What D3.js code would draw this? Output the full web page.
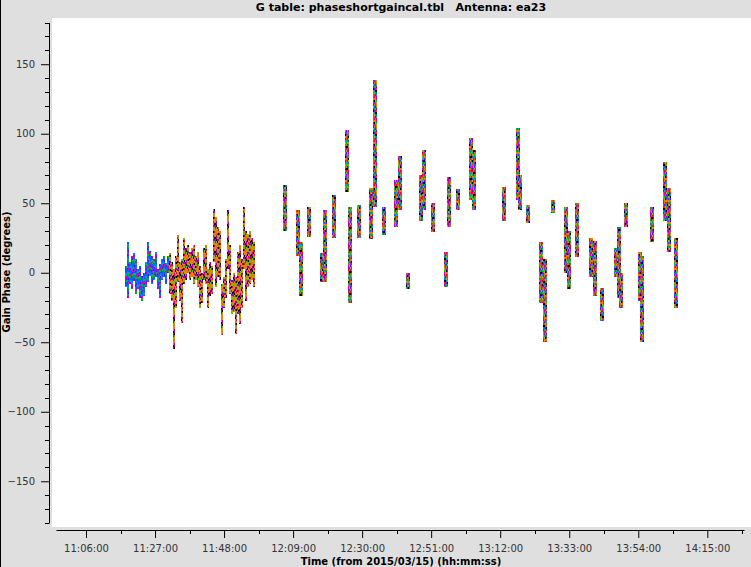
<!DOCTYPE html>
<html>
<head>
<meta charset="utf-8">
<script src="https://cdn.jsdelivr.net/npm/d3@7"></script>
<style>
  body { margin: 0; background: #dfdfdf; }
  svg { display: block; font-family: "DejaVu Sans", sans-serif; }
</style>
</head>
<body>
<div id="chart"></div>
<script>
//////////////////////////////////////////////////////////////
///////////////////////// Data ///////////////////////////////
//////////////////////////////////////////////////////////////

// [minutes after 11:00:00, phase top, phase bottom] in degrees
var earlyScans = [
  [18.17, 5, -10], [18.78, 22, -18], [19.38, 8, -8], [19.99, 12, -12],
  [20.60, 14, -6], [21.21, 10, -15], [21.82, 3, -12], [22.43, 5, -18],
  [23.04, -2, -20], [23.64, 0, -17], [24.25, 8, -10], [24.86, 22, -7],
  [25.47, 16, -2], [26.08, 12, -8], [26.69, 10, -5], [27.29, 15, -3],
  [27.90, 3, -12], [28.51, 6, -18], [29.12, 10, -5], [29.73, 12, -3],
  [30.34, 7, -8], [30.94, 12, 0]
];

var midScans = [
  [31.55, 14, -15], [32.16, 8, -20], [32.77, 3, -55], [33.38, 12, -25],
  [33.99, 27, -7], [34.59, 8, -20], [35.20, 10, -36], [35.81, 25, -8],
  [36.42, 18, -5], [37.03, 20, 0], [37.64, 15, -5], [38.25, 18, -3],
  [38.85, 20, -8], [39.46, 12, -5], [40.07, 15, -10], [40.68, 5, -25],
  [41.29, 0, -22], [41.90, 18, -5], [42.50, 20, -8], [43.11, 3, -25],
  [43.72, 8, -17], [44.33, 5, -15], [44.94, 46, 8], [45.55, 40, -10],
  [46.15, 33, -3], [46.76, 30, -5], [47.37, -8, -45], [47.98, -3, -25],
  [48.59, 10, -18], [49.20, 45, 3], [49.80, 20, -15], [50.41, -5, -30],
  [51.02, 0, -28], [51.63, -3, -44], [52.24, 15, -30], [52.85, 20, -37],
  [53.46, 10, -25], [54.06, 47, 3], [54.67, 30, -20], [55.28, 28, -10],
  [55.89, 30, -8], [56.50, 25, -5], [57.11, 22, -10]
];

var lateScans = [
  [66.54, 63, 30], [70.49, 45, 12], [71.40, 22, -17], [73.84, 47, 26],
  [77.79, 14, -7], [78.70, 45, -7], [81.44, 56, 25], [85.40, 103, 58],
  [86.31, 47, -22], [89.05, 49, 25], [92.70, 61, 24], [93.91, 139, 47],
  [96.65, 47, 27], [100.30, 67, 33], [101.52, 84, 45], [103.95, 0, -12],
  [107.91, 70, 37], [108.82, 88, 45], [111.56, 50, 29], [115.51, 15, -10],
  [116.42, 69, 33], [119.16, 60, 45], [123.12, 97, 52], [124.03, 88, 45],
  [133.16, 62, 37], [137.41, 104, 52], [138.02, 70, 45], [140.46, 49, 36],
  [144.41, 22, -22], [145.63, 10, -50], [148.06, 52, 43], [152.02, 47, 0],
  [152.93, 30, -12], [155.36, 50, 11], [159.62, 25, -3], [160.84, 23, -17],
  [162.97, -11, -35], [167.23, 18, -3], [168.14, 33, -18], [168.75, 0, -25],
  [170.27, 50, 33], [174.53, 15, -20], [175.14, 12, -50], [178.18, 47, 22],
  [182.13, 80, 37], [183.35, 61, 15], [185.48, 25, -25]
];

var timeTicks = ["11:06:00", "11:27:00", "11:48:00", "12:09:00", "12:30:00",
                 "12:51:00", "13:12:00", "13:33:00", "13:54:00", "14:15:00"];
var phaseTicks = [-150, -100, -50, 0, 50, 100, 150];

// colours of the different spw / channels
var bluePalette = ["#0066ff", "#7a00ff", "#0066ff", "#00c000", "#00a0c0", "#0066ff", "#e000b0"];
var orangePalette = ["#e08000", "#e0005a", "#60c800", "#e08000", "#9000e0", "#000000", "#d89000"];
var fullPalette = ["#0066ff", "#e0005a", "#00c000", "#e08000", "#8000ff", "#000000", "#00a8a8", "#d000d0", "#80c800", "#c08000", "#ff3030"];

//////////////////////////////////////////////////////////////
/////////////////////// Settings /////////////////////////////
//////////////////////////////////////////////////////////////

var width = 751, height = 567;
var canvas = {x: 52, y: 18, w: 699, h: 509};

var parseT = d3.timeParse("%H:%M:%S");
var fmtT = d3.timeFormat("%H:%M:%S");
function tm(min) { return new Date(1900, 0, 1, 11, 0, Math.round(min * 60)); }

var svg = d3.select("#chart").append("svg")
    .attr("width", width)
    .attr("height", height);

svg.append("rect")
    .attr("width", width).attr("height", height)
    .attr("fill", "#dfdfdf");

svg.append("line")
    .attr("x1", 0.5).attr("x2", 0.5).attr("y1", 0).attr("y2", height)
    .attr("stroke", "#000");

// white plot canvas
svg.append("rect")
    .attr("x", canvas.x).attr("y", canvas.y)
    .attr("width", canvas.w).attr("height", canvas.h)
    .attr("fill", "#fff");

//////////////////////////////////////////////////////////////
///////////////////// Scales & Axes //////////////////////////
//////////////////////////////////////////////////////////////

var majorT = timeTicks.map(parseT);
var base = d3.scaleTime().domain([majorT[0], majorT[majorT.length - 1]]).range([86, 707.3]);
var xScale = d3.scaleTime().domain([base.invert(56), base.invert(744)]).range([56, 744]);
var yScale = d3.scaleLinear().domain([-180, 180]).range([523, 22.5]);

var xAxis = d3.axisBottom(xScale)
    .tickValues(majorT)
    .tickFormat(fmtT)
    .tickSize(8).tickSizeOuter(0).tickPadding(7);

var yAxis = d3.axisLeft(yScale)
    .tickValues(phaseTicks)
    .tickSize(8).tickSizeOuter(0).tickPadding(6);

var gx = svg.append("g")
    .attr("transform", "translate(0,530)")
    .call(xAxis);

var gy = svg.append("g")
    .attr("transform", "translate(49,0)")
    .call(yAxis);

[gx, gy].forEach(function(g) {
  g.select(".domain").attr("stroke", "#000");
  g.selectAll(".tick line").attr("stroke", "#000");
  g.selectAll("text")
      .attr("font-family", "DejaVu Sans")
      .attr("font-size", 10)
      .attr("fill", "#333");
});

//Minor ticks
var step = (majorT[1] - majorT[0]) / 2;
var minorT = d3.range(majorT[0] - step, +majorT[majorT.length - 1] + 2 * step, 2 * step)
    .map(function(v) { return new Date(v); })
    .filter(function(d) { return xScale(d) >= 56 && xScale(d) <= 744; });

gx.selectAll(".minor")
    .data(minorT).enter()
    .append("line")
        .attr("class", "minor")
        .attr("x1", function(d) { return Math.round(xScale(d)) + 0.5; })
        .attr("x2", function(d) { return Math.round(xScale(d)) + 0.5; })
        .attr("y1", 0).attr("y2", 4)
        .attr("stroke", "#000");

var minorP = d3.range(-180, 181, 10).filter(function(d) { return d % 50 !== 0; });
gy.selectAll(".minor")
    .data(minorP).enter()
    .append("line")
        .attr("class", "minor")
        .attr("x1", -4).attr("x2", 0)
        .attr("y1", function(d) { return Math.round(yScale(d)) + 0.5; })
        .attr("y2", function(d) { return Math.round(yScale(d)) + 0.5; })
        .attr("stroke", "#000");

//Titles
svg.append("text")
    .attr("x", 401).attr("y", 11)
    .attr("text-anchor", "middle")
    .attr("font-size", 11).attr("font-weight", "bold")
    .style("white-space", "pre")
    .text("G table: phaseshortgaincal.tbl   Antenna: ea23");

svg.append("text")
    .attr("x", 401).attr("y", 565)
    .attr("text-anchor", "middle")
    .attr("font-size", 10).attr("font-weight", "bold")
    .text("Time (from 2015/03/15) (hh:mm:ss)");

svg.append("text")
    .attr("transform", "translate(10,272) rotate(-90)")
    .attr("text-anchor", "middle")
    .attr("font-size", 10).attr("font-weight", "bold")
    .text("Gain Phase (degrees)");

//////////////////////////////////////////////////////////////
//////////////////////// Points //////////////////////////////
//////////////////////////////////////////////////////////////

// every scan is drawn as a few pixel columns, each column speckled
// with the palette colours through dash offsets (palette lengths are prime,
// so every column gets a different colour order)
var dash = 2;
function strands(data, palette, cols) {
  var n = palette.length, out = [];
  data.forEach(function(d, si) {
    var px = Math.round(xScale(tm(d[0])));
    for (var c = 0; c < cols; c++) {
      var m = 1 + ((c * 3 + si * 2) % (n - 1));
      palette.forEach(function(col, i) {
        out.push({
          x: px - Math.floor(cols / 2) + c + 0.5,
          y1: yScale(d[1]), y2: yScale(d[2]),
          color: col,
          off: -dash * ((i * m + c * 2 + si * 3) % n),
          n: n
        });
      });
    }
  });
  return out;
}

var pts = svg.append("g").attr("shape-rendering", "crispEdges");

function drawScans(data, palette, cols) {
  pts.append("g").selectAll("line")
    .data(strands(data, palette, cols)).enter()
    .append("line")
        .attr("x1", function(d) { return d.x; })
        .attr("x2", function(d) { return d.x; })
        .attr("y1", function(d) { return d.y1; })
        .attr("y2", function(d) { return d.y2; })
        .attr("stroke", function(d) { return d.color; })
        .attr("stroke-width", 1)
        .attr("stroke-dasharray", function(d) { return dash + " " + dash * (d.n - 1); })
        .attr("stroke-dashoffset", function(d) { return d.off; });
}

drawScans(earlyScans, bluePalette, 2);
drawScans(midScans, orangePalette, 2);
drawScans(lateScans, fullPalette, 4);
</script>
</body>
</html>
